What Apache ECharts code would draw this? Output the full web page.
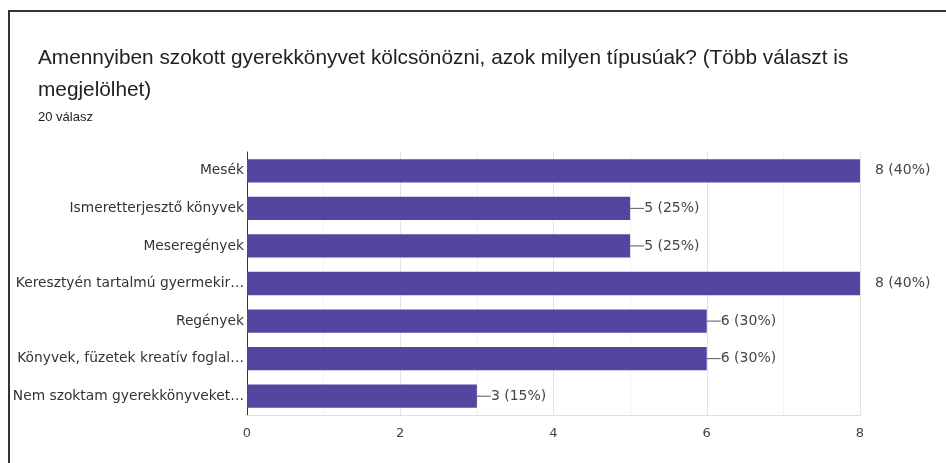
<!DOCTYPE html>
<html>
<head>
<meta charset="utf-8">
<script src="https://cdn.jsdelivr.net/npm/echarts@6/dist/echarts.min.js"></script>
<style>
  html, body { margin: 0; padding: 0; background: #fff; }
  .card {
    position: absolute; left: 8px; top: 10px; width: 938px; height: 453px;
    border-top: 2px solid #333; border-left: 2px solid #333;
  }
  #chart { position: absolute; left: 0; top: 0; width: 946px; height: 463px; }
</style>
</head>
<body>
<div class="card"></div>
<div id="chart"></div>
<script>
  // adatok
  const categories = [
    'Mesék',
    'Ismeretterjesztő könyvek',
    'Meseregények',
    'Keresztyén tartalmú gyermekir…',
    'Regények',
    'Könyvek, füzetek kreatív foglal…',
    'Nem szoktam gyerekkönyveket…'
  ];
  const counts = [8, 5, 5, 8, 6, 6, 3];
  const percents = [40, 25, 25, 40, 30, 30, 15];
  const xTicks = [0, 2, 4, 6, 8];

  const chart = echarts.init(document.getElementById('chart'));
  const font = 'Liberation Sans, Arial, sans-serif';
  const wide = 'DejaVu Sans, sans-serif';

  chart.setOption({
    animation: false,
    title: [
      {
        text: 'Amennyiben szokott gyerekkönyvet kölcsönözni, azok milyen típusúak? (Több választ is\nmegjelölhet)',
        left: 33, top: 37,
        textStyle: { fontFamily: font, fontSize: 20.8, fontWeight: 'normal', color: '#202124', lineHeight: 32 }
      },
      {
        text: '20 válasz',
        left: 33, top: 106,
        textStyle: { fontFamily: font, fontSize: 13, fontWeight: 'normal', color: '#202124' }
      }
    ],
    grid: { left: 247, right: 86, top: 152, bottom: 48 },
    xAxis: {
      type: 'value', min: 0, max: 8, interval: 2,
      axisLine: { show: true, lineStyle: { color: '#ddd' } },
      axisTick: { show: false },
      axisLabel: {
        fontFamily: wide, fontSize: 13, color: '#444', margin: 12,
        formatter: v => xTicks.includes(v) ? String(v) : ''
      },
      splitLine: { show: true, lineStyle: { color: '#e4e4e4' } },
      minorTick: { show: false, splitNumber: 2 },
      minorSplitLine: { show: true, lineStyle: { color: '#f2f2f2' } }
    },
    yAxis: {
      type: 'category', data: categories, inverse: true,
      axisLine: { show: true, onZero: false, lineStyle: { color: '#333', width: 1 } },
      axisTick: { show: false },
      axisLabel: { fontFamily: wide, fontSize: 13.8, color: '#333', margin: 3 }
    },
    series: [{
      type: 'bar',
      barCategoryGap: '38%',
      itemStyle: { color: '#5346a1' },
      data: counts.map((v, i) => {
        const full = v === 8;
        return {
          value: v,
          label: {
            show: true, position: 'right', distance: full ? 15 : 0,
            fontFamily: wide, fontSize: 14, color: '#444',
            formatter: full ? v + ' (' + percents[i] + '%)' : '{ln|}{t|' + v + ' (' + percents[i] + '%)}',
            rich: {
              ln: { width: 14, height: 1, backgroundColor: '#555' },
              t: { fontFamily: wide, fontSize: 14, color: '#444' }
            }
          }
        };
      })
    }]
  });
</script>
</body>
</html>
